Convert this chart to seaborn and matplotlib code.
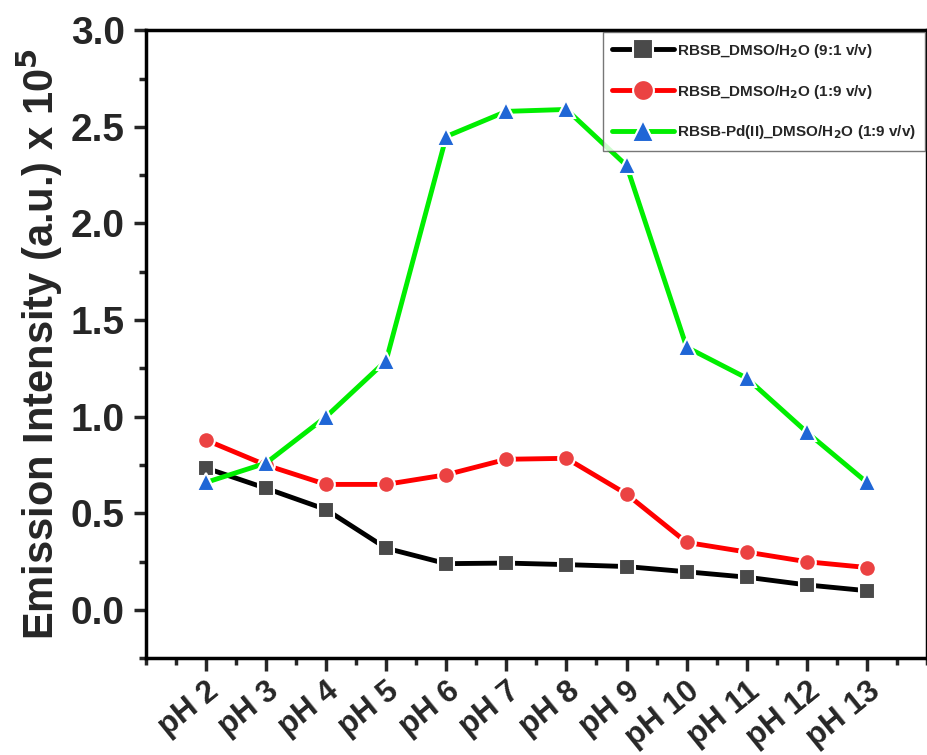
import numpy as np
import pandas as pd
import matplotlib
matplotlib.use("Agg")
import matplotlib.pyplot as plt
import matplotlib.transforms as mtransforms
import seaborn as sns
from matplotlib.ticker import MultipleLocator

# Data
ph_labels = ["pH 2", "pH 3", "pH 4", "pH 5", "pH 6", "pH 7",
             "pH 8", "pH 9", "pH 10", "pH 11", "pH 12", "pH 13"]
dmso_91 = [0.735, 0.63, 0.52, 0.32, 0.24, 0.243, 0.235, 0.225, 0.198, 0.17, 0.13, 0.10]
dmso_19 = [0.88, 0.75, 0.65, 0.65, 0.70, 0.78, 0.785, 0.60, 0.35, 0.30, 0.25, 0.22]
pd_19 = [0.66, 0.76, 1.00, 1.29, 2.45, 2.58, 2.59, 2.30, 1.36, 1.20, 0.92, 0.66]

series_names = ["RBSB_DMSO/H$_2$O (9:1 v/v)",
                "RBSB_DMSO/H$_2$O (1:9 v/v)",
                "RBSB-Pd(II)_DMSO/H$_2$O (1:9 v/v)"]

df = pd.DataFrame({
    "x": list(range(len(ph_labels))) * 3,
    "y": dmso_91 + dmso_19 + pd_19,
    "series": np.repeat(series_names, len(ph_labels)),
})

sns.set_style("white")
plt.rcParams["font.family"] = ["Liberation Sans", "DejaVu Sans"]
plt.rcParams["font.weight"] = "bold"
plt.rcParams["mathtext.default"] = "bf"

fig, ax = plt.subplots(figsize=(9.28, 7.55), dpi=100)

styles = [
    ("black", "#4a4a4a", "s", 11),
    ("#ff0000", "#eb4242", "o", 12),
    ("#00ee00", "#1f66d6", "^", 13),
]
for name, (lc, mc, mk, ms) in zip(series_names, styles):
    sns.lineplot(data=df[df["series"] == name], x="x", y="y", ax=ax,
                 color=lc, linewidth=3.5, marker=mk, markersize=ms,
                 markerfacecolor=mc, markeredgecolor="white", markeredgewidth=1.5,
                 label=name)

ax.set_xlim(-1, 12)
ax.set_ylim(-0.25, 3.0)
ax.set_xticks(range(len(ph_labels)))
ax.set_xticklabels(ph_labels, rotation=39, ha="right", va="top",
                   rotation_mode="anchor", fontsize=22.5, fontweight="bold")
# shift the rotated labels a little to the right, like the original
shift = mtransforms.ScaledTranslation(14 / 100, 0, fig.dpi_scale_trans)
for lab in ax.get_xticklabels():
    lab.set_transform(lab.get_transform() + shift)
ax.xaxis.set_minor_locator(MultipleLocator(0.5))
ax.yaxis.set_minor_locator(MultipleLocator(0.25))
ax.set_yticks(np.arange(0, 3.01, 0.5))
ax.set_yticklabels([f"{v:.1f}" for v in np.arange(0, 3.01, 0.5)],
                   fontsize=28, fontweight="bold")
ax.tick_params(axis="both", which="major", direction="out", length=9, width=2.5,
               bottom=True, left=True)
ax.tick_params(axis="both", which="minor", direction="out", length=5, width=2.5,
               bottom=True, left=True)
ax.tick_params(axis="x", which="major", pad=4)
ax.tick_params(axis="y", which="major", pad=6)

for side in ["left", "bottom", "top", "right"]:
    ax.spines[side].set_visible(True)
    ax.spines[side].set_linewidth(2.5)
    ax.spines[side].set_color("black")

ax.set_xlabel("")
ax.set_ylabel("Emission Intensity (a.u.) x 10$^5$", fontsize=30, fontweight="bold",
              labelpad=4)

leg = ax.legend(loc="upper right", fontsize=11, frameon=True, fancybox=False,
                edgecolor="#555555", handlelength=4.0, borderaxespad=0.15,
                labelspacing=1.5, handletextpad=0.2, markerscale=1.25,
                borderpad=0.6)
leg.get_frame().set_linewidth(1.0)
for t in leg.get_texts():
    t.set_fontweight("bold")

fig.subplots_adjust(left=0.157, right=0.999, top=0.96, bottom=0.128)
fig.savefig("out.png", dpi=100)
